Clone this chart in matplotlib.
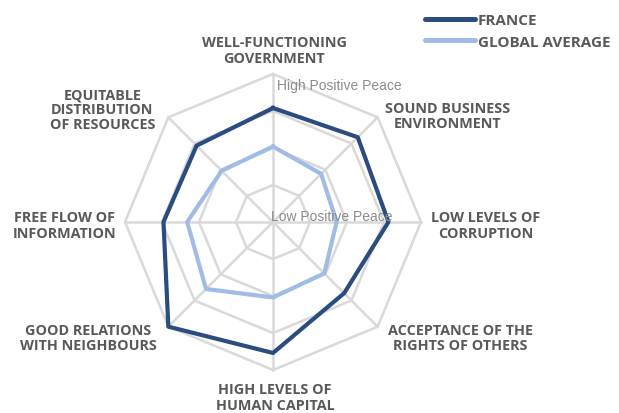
import numpy as np
import matplotlib
matplotlib.use("Agg")
import matplotlib.pyplot as plt

# Positive Peace pillars, clockwise from the top
pillars = [
    "WELL-FUNCTIONING\nGOVERNMENT",
    "SOUND BUSINESS\nENVIRONMENT",
    "LOW LEVELS OF\nCORRUPTION",
    "ACCEPTANCE OF THE\nRIGHTS OF OTHERS",
    "HIGH LEVELS OF\nHUMAN CAPITAL",
    "GOOD RELATIONS\nWITH NEIGHBOURS",
    "FREE FLOW OF\nINFORMATION",
    "EQUITABLE\nDISTRIBUTION\nOF RESOURCES",
]
# scores: 1 = high positive peace (outside), 5 = low (centre)
france = [1.92, 1.76, 1.88, 2.28, 1.46, 1.00, 2.04, 2.08]
global_avg = [2.96, 3.16, 3.28, 3.04, 2.96, 2.44, 2.68, 3.04]
ring_levels = [1, 2, 3, 4]

# label offsets (pixels) from the outer vertex of each spoke
label_offsets = [(1, 24), (70, 2), (65, -3), (83, -11), (2, -27), (-80, -11), (-60, -3), (-66, 8)]

W, H = 619, 414
DPI = 100
grid_col = "#d9d9d9"
text_col = "#595959"
france_col = "#2b4c7e"
global_col = "#a0bce6"

fig = plt.figure(figsize=(W / DPI, H / DPI), dpi=DPI)
cx, cy, R = 273, 223, 148
ax = fig.add_axes([(cx - R) / W, (H - cy - R) / H, 2 * R / W, 2 * R / H], projection="polar")
ax.set_theta_zero_location("N")
ax.set_theta_direction(-1)
ax.set_ylim(5, 1)
ax.grid(False)
ax.spines["polar"].set_visible(False)
ax.set_xticks([])
ax.set_yticks([])
ax.patch.set_visible(False)

n = len(pillars)
angles = np.linspace(0, 2 * np.pi, n, endpoint=False)
closed = np.append(angles, angles[0])

# octagonal grid
for lv in ring_levels:
    ax.plot(closed, [lv] * (n + 1), color=grid_col, lw=1.8, zorder=1, clip_on=False)
for a in angles:
    ax.plot([a, a], [5, 1], color=grid_col, lw=1.8, zorder=1, clip_on=False)

ax.plot(closed, global_avg + global_avg[:1], color=global_col, lw=3.0, zorder=3,
        label="GLOBAL AVERAGE", clip_on=False)
ax.plot(closed, france + france[:1], color=france_col, lw=3.0, zorder=4,
        label="FRANCE", clip_on=False)

lab_font = dict(family="Open Sans", weight="bold", size=10.4, color=text_col)
for a, lab, (dx, dy) in zip(angles, pillars, label_offsets):
    ax.annotate(lab, xy=(a, 1), xytext=(dx * 72 / DPI, dy * 72 / DPI), textcoords="offset points",
                ha="center", va="center", multialignment="center", linespacing=1.1,
                annotation_clip=False, **lab_font)

scale_font = dict(family="Liberation Sans", size=10, color="#8c8c8c")
ax.annotate("High Positive Peace", xy=(0, 1), xytext=(3, -8), textcoords="offset points",
            ha="left", va="center", annotation_clip=False, zorder=5, **scale_font)
ax.annotate("Low Positive Peace", xy=(0, 5), xytext=(-1.5, 4.5), textcoords="offset points",
            ha="left", va="center", annotation_clip=False, zorder=5, **scale_font)

h, l = ax.get_legend_handles_labels()
leg = fig.legend(h[::-1], l[::-1], loc="upper left", bbox_to_anchor=(425 / W, 1 - 14 / H),
                 frameon=False, handlelength=3.3, handletextpad=0.15, labelspacing=0.5,
                 borderpad=0, borderaxespad=0,
                 prop=dict(family="Open Sans", weight="bold", size=11))
for t in leg.get_texts():
    t.set_color(text_col)
    t.set_fontweight("bold")
for ln in leg.get_lines():
    ln.set_linewidth(3.6)
    ln.set_solid_capstyle("round")

fig.savefig("out.png", dpi=DPI)
